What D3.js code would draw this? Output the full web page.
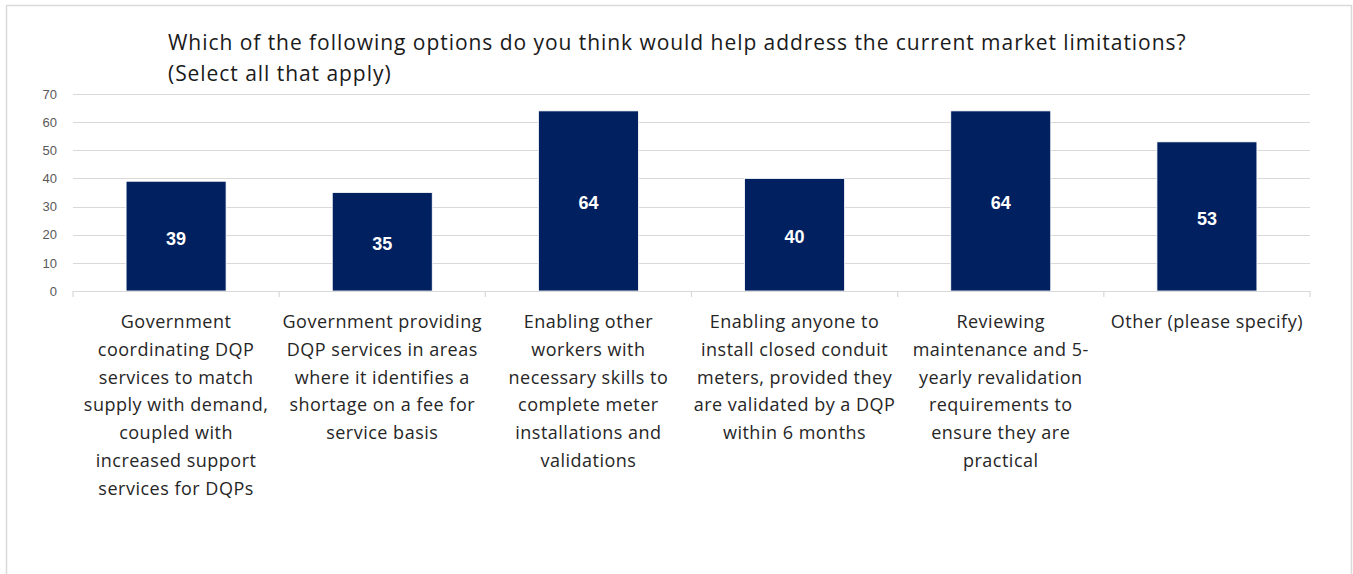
<!DOCTYPE html>
<html>
<head>
<meta charset="utf-8">
<script src="https://cdn.jsdelivr.net/npm/d3@7"></script>
<style>
  html, body { margin: 0; padding: 0; background: #fff; }
  svg { display: block; }
</style>
</head>
<body>
<svg id="chart" width="1353" height="574"></svg>
<script>
// Survey responses per option
const categories = [
  ["Government", "coordinating DQP", "services to match", "supply with demand,", "coupled with", "increased support", "services for DQPs"],
  ["Government providing", "DQP services in areas", "where it identifies a", "shortage on a fee for", "service basis"],
  ["Enabling other", "workers with", "necessary skills to", "complete meter", "installations and", "validations"],
  ["Enabling anyone to", "install closed conduit", "meters, provided they", "are validated by a DQP", "within 6 months"],
  ["Reviewing", "maintenance and 5-", "yearly revalidation", "requirements to", "ensure they are", "practical"],
  ["Other (please specify)"]
];
const values = [39, 35, 64, 40, 64, 53];
const yTicks = [0, 10, 20, 30, 40, 50, 60, 70];
const titleLines = [
  "Which of the following options do you think would help address the current market limitations?",
  "(Select all that apply)"
];

const svg = d3.select("#chart");
const W = 1353, H = 574;

// outer frame
svg.append("path")
  .attr("d", `M6.5,${H} V5.5 H1351.5 V${H}`)
  .attr("fill", "none")
  .attr("stroke", "#d9d9d9")
  .attr("stroke-width", 1.5);

const plot = { left: 73, right: 1310, top: 94, bottom: 291 };

const x = d3.scaleBand()
  .domain(d3.range(categories.length))
  .range([plot.left, plot.right])
  .paddingInner(0.515)
  .paddingOuter(0.2575);

const xOuter = d3.scaleBand()
  .domain(d3.range(categories.length))
  .range([plot.left, plot.right]);

const y = d3.scaleLinear().domain([0, 70]).range([plot.bottom, plot.top]);

// gridlines
svg.append("g")
  .selectAll("line")
  .data(yTicks.filter(d => d > 0))
  .join("line")
  .attr("x1", plot.left).attr("x2", plot.right)
  .attr("y1", d => Math.round(y(d)) + 0.5).attr("y2", d => Math.round(y(d)) + 0.5)
  .attr("stroke", "#d9d9d9").attr("stroke-width", 1.2);

// y axis labels
const yAxis = d3.axisLeft(y).tickValues(yTicks).tickSize(0).tickPadding(16);
svg.append("g")
  .attr("transform", `translate(${plot.left},0)`)
  .call(yAxis)
  .call(g => g.select(".domain").remove())
  .call(g => g.selectAll("text")
    .attr("fill", "#595959")
    .attr("font-family", "'Liberation Sans', Arial, sans-serif")
    .attr("font-size", 13));

// bars
svg.append("g")
  .selectAll("rect")
  .data(values)
  .join("rect")
  .attr("x", (d, i) => x(i))
  .attr("width", x.bandwidth())
  .attr("y", d => y(d))
  .attr("height", d => y(0) - y(d))
  .attr("fill", "#002060")
  .attr("stroke", "#ffffff")
  .attr("stroke-width", 0.8);

// value labels inside bars
svg.append("g")
  .selectAll("text")
  .data(values)
  .join("text")
  .attr("x", (d, i) => x(i) + x.bandwidth() / 2)
  .attr("y", d => (y(d) + y(0)) / 2 + 2)
  .attr("dy", "0.36em")
  .attr("text-anchor", "middle")
  .attr("fill", "#ffffff")
  .attr("font-family", "'Liberation Sans', Arial, sans-serif")
  .attr("font-weight", "bold")
  .attr("font-size", 18)
  .text(d => d);

// category axis with boundary ticks
const xAxisG = svg.append("g");
xAxisG.append("line")
  .attr("x1", plot.left).attr("x2", plot.right)
  .attr("y1", plot.bottom + 0.5).attr("y2", plot.bottom + 0.5)
  .attr("stroke", "#d9d9d9").attr("stroke-width", 1.2);
xAxisG.selectAll("line.tick")
  .data(d3.range(categories.length + 1))
  .join("line")
  .attr("class", "tick")
  .attr("x1", i => i < categories.length ? xOuter(i) : plot.right)
  .attr("x2", i => i < categories.length ? xOuter(i) : plot.right)
  .attr("y1", plot.bottom)
  .attr("y2", plot.bottom + 6)
  .attr("stroke", "#d9d9d9").attr("stroke-width", 1.2);

// wrapped category labels
const labelG = svg.append("g")
  .attr("font-family", "'Open Sans', 'Noto Sans', sans-serif")
  .attr("font-size", 18)
  .attr("letter-spacing", 0.5)
  .attr("fill", "#262626")
  .attr("text-anchor", "middle");
categories.forEach((lines, i) => {
  const cx = xOuter(i) + xOuter.bandwidth() / 2;
  const t = labelG.append("text").attr("x", cx).attr("y", 328);
  lines.forEach((ln, k) => {
    t.append("tspan").attr("x", cx).attr("y", 328 + k * 27.8).text(ln);
  });
});

// title
const titleG = svg.append("g")
  .attr("font-family", "'Open Sans', 'Noto Sans', sans-serif")
  .attr("font-size", 21)
  .attr("letter-spacing", 0.95)
  .attr("fill", "#1a1a1a");
titleLines.forEach((ln, k) => {
  titleG.append("text").attr("x", 168).attr("y", 50 + k * 31).text(ln);
});
</script>
</body>
</html>
